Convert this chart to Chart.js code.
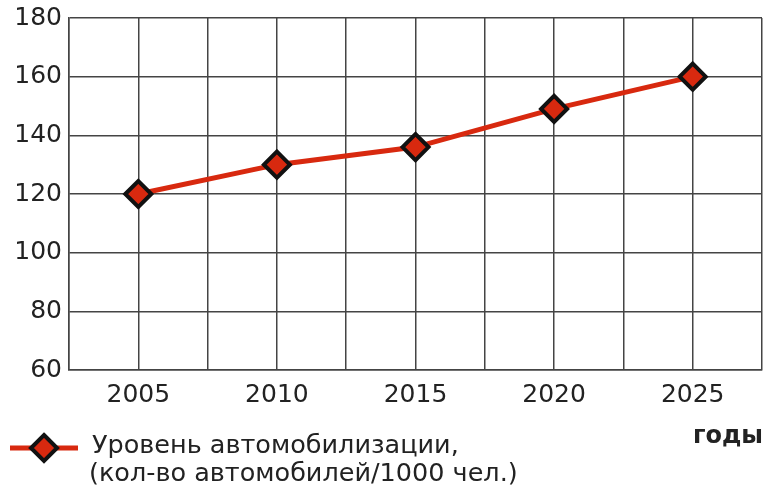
<!DOCTYPE html>
<html>
<head>
<meta charset="utf-8">
<script src="https://cdn.jsdelivr.net/npm/chart.js@4"></script>
<style>
  html, body { margin: 0; padding: 0; background: #fff; overflow: hidden; }
  canvas { display: block; }
</style>
</head>
<body>
<canvas id="chart" width="764" height="491"></canvas>
<script>
// Data
const years = [2005, 2010, 2015, 2020, 2025];
const carsPer1000 = [120, 130, 136, 149, 160];
const legendLines = ['Уровень автомобилизации,', '(кол-во автомобилей/1000 чел.)'];
const xAxisTitle = 'годы';

const LINE_COLOR = '#d8290f';
const GRID_COLOR = '#444';
const TEXT_COLOR = '#222';
const FONT = 'DejaVu Sans';

// Draws the two-line legend and the "годы" label below the plot
const bottomLegend = {
    id: 'bottomLegend',
    afterDraw(chart) {
        const ctx = chart.ctx;
        ctx.save();

        // legend line sample with diamond marker
        const ly = 448;
        ctx.strokeStyle = LINE_COLOR;
        ctx.lineWidth = 5;
        ctx.beginPath();
        ctx.moveTo(10, ly);
        ctx.lineTo(78, ly);
        ctx.stroke();

        ctx.fillStyle = LINE_COLOR;
        ctx.strokeStyle = '#111';
        ctx.lineWidth = 4;
        ctx.beginPath();
        ctx.moveTo(44, ly - 13);
        ctx.lineTo(57, ly);
        ctx.lineTo(44, ly + 13);
        ctx.lineTo(31, ly);
        ctx.closePath();
        ctx.fill();
        ctx.stroke();

        ctx.fillStyle = TEXT_COLOR;
        ctx.font = '25.5px "' + FONT + '"';
        ctx.textBaseline = 'middle';
        ctx.textAlign = 'left';
        ctx.fillText(legendLines[0], 92, 446);
        ctx.fillText(legendLines[1], 89, 474);

        ctx.font = 'bold 24px "' + FONT + '"';
        ctx.textAlign = 'right';
        ctx.fillText(xAxisTitle, 763, 437);

        ctx.restore();
    }
};

new Chart(document.getElementById('chart'), {
    type: 'line',
    data: {
        datasets: [{
            label: legendLines.join(' '),
            data: years.map((y, i) => ({ x: y, y: carsPer1000[i] })),
            borderColor: LINE_COLOR,
            borderWidth: 5,
            backgroundColor: LINE_COLOR,
            pointStyle: 'rectRot',
            pointRadius: 13,
            pointBorderWidth: 4,
            pointBorderColor: '#111',
            pointBackgroundColor: LINE_COLOR,
            tension: 0
        }]
    },
    options: {
        responsive: false,
        animation: false,
        layout: {
            autoPadding: false,
            padding: { top: 18, right: 2, bottom: 81, left: 0 }
        },
        plugins: {
            legend: { display: false },
            tooltip: { enabled: false }
        },
        scales: {
            x: {
                type: 'linear',
                min: 2002.5,
                max: 2027.5,
                ticks: {
                    stepSize: 2.5,
                    autoSkip: false,
                    maxRotation: 0,
                    color: TEXT_COLOR,
                    font: { family: FONT, size: 25 },
                    padding: 10,
                    callback: function(value) {
                        return value % 5 === 0 ? String(value) : '';
                    }
                },
                grid: { color: GRID_COLOR, lineWidth: 1.5, drawTicks: false },
                border: { color: GRID_COLOR, width: 1.5 },
                afterFit: function(scale) {
                    scale.height = 40;
                    scale.paddingLeft = 0;
                    scale.paddingRight = 0;
                }
            },
            y: {
                min: 60,
                max: 180,
                ticks: {
                    stepSize: 20,
                    color: TEXT_COLOR,
                    font: { family: FONT, size: 25 },
                    padding: 7
                },
                grid: { color: GRID_COLOR, lineWidth: 1.5, drawTicks: false },
                border: { color: GRID_COLOR, width: 1.5 },
                afterFit: function(scale) {
                    scale.width = 69;
                    scale.paddingTop = 0;
                    scale.paddingBottom = 0;
                }
            }
        }
    },
    plugins: [bottomLegend]
});
</script>
</body>
</html>
